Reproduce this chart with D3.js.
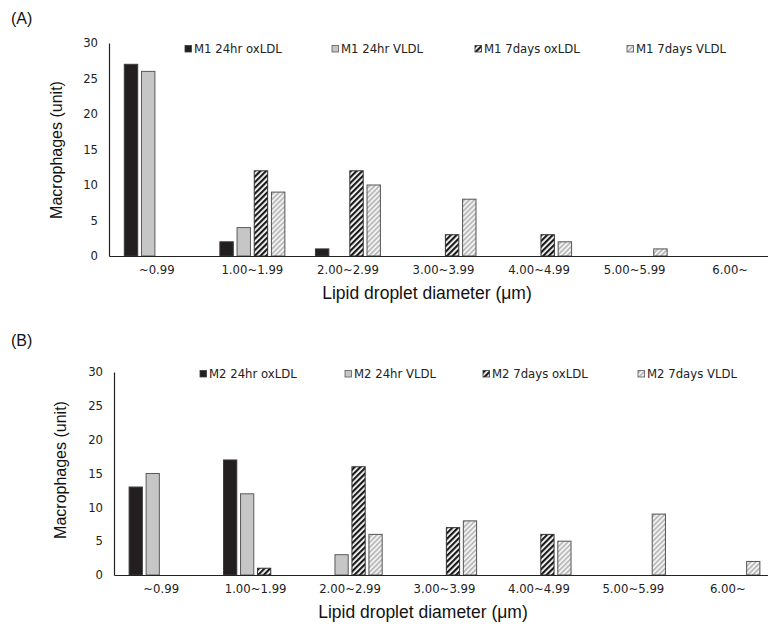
<!DOCTYPE html>
<html><head><meta charset="utf-8">
<script src="https://cdn.jsdelivr.net/npm/d3@7"></script>
<style>body{margin:0;background:#fff}svg{display:block}</style>
</head><body>
<svg id="chart" width="768" height="629"></svg>
<script>
const categories = ["~0.99","1.00~1.99","2.00~2.99","3.00~3.99","4.00~4.99","5.00~5.99","6.00~"];
const seriesA = ["M1 24hr oxLDL","M1 24hr VLDL","M1 7days oxLDL","M1 7days VLDL"];
const seriesB = ["M2 24hr oxLDL","M2 24hr VLDL","M2 7days oxLDL","M2 7days VLDL"];
const m1_24hr_oxLDL = [27, 2, 1, 0, 0, 0, 0];
const m1_24hr_VLDL  = [26, 4, 0, 0, 0, 0, 0];
const m1_7d_oxLDL   = [0, 12, 12, 3, 3, 0, 0];
const m1_7d_VLDL    = [0, 9, 10, 8, 2, 1, 0];
const m2_24hr_oxLDL = [13, 17, 0, 0, 0, 0, 0];
const m2_24hr_VLDL  = [15, 12, 3, 0, 0, 0, 0];
const m2_7d_oxLDL   = [0, 1, 16, 7, 6, 0, 0];
const m2_7d_VLDL    = [0, 0, 6, 8, 5, 9, 2];
const yTicks = [0, 5, 10, 15, 20, 25, 30];

const svg = d3.select("#chart");
const defs = svg.append("defs");
const p1 = defs.append("pattern").attr("id","hatchDark").attr("patternUnits","userSpaceOnUse")
  .attr("width",4).attr("height",4).attr("patternTransform","rotate(45)");
p1.append("rect").attr("width",4).attr("height",4).attr("fill","#ffffff");
p1.append("rect").attr("width",2.2).attr("height",4).attr("fill","#1a1a1a");
const p2 = defs.append("pattern").attr("id","hatchLight").attr("patternUnits","userSpaceOnUse")
  .attr("width",3.5).attr("height",3.5).attr("patternTransform","rotate(45)");
p2.append("rect").attr("width",3.5).attr("height",3.5).attr("fill","#f2f2f2");
p2.append("rect").attr("width",1.6).attr("height",3.5).attr("fill","#b5b5b5");

const styles = [
  {fill:"#231f20", stroke:"#3a3a3a"},
  {fill:"#c6c6c6", stroke:"#5a5a5a"},
  {fill:"url(#hatchDark)", stroke:"#333"},
  {fill:"url(#hatchLight)", stroke:"#555"}
];
const smallFont = "DejaVu Sans, Verdana, sans-serif";
const bigFont = "Liberation Sans, Arial, sans-serif";

function panel(cfg){
  const g = svg.append("g");
  const x0 = d3.scaleBand().domain(categories).range([cfg.left, cfg.right]).padding(0);
  const x1 = d3.scaleBand().domain(d3.range(4)).range([0, x0.bandwidth()])
    .paddingInner(0.22).paddingOuter(0.89);
  const y = d3.scaleLinear().domain([0,30]).range([cfg.bottom, cfg.top]);

  cfg.data.forEach((vals, si) => {
    g.append("g").selectAll("rect").data(vals.map((v,i)=>({v, c:categories[i]})).filter(d=>d.v>0))
      .join("rect")
      .attr("x", d => x0(d.c) + x1(si))
      .attr("y", d => y(d.v))
      .attr("width", x1.bandwidth())
      .attr("height", d => y(0) - y(d.v))
      .attr("fill", styles[si].fill)
      .attr("stroke", styles[si].stroke)
      .attr("stroke-width", 1);
  });

  const ya = g.append("g").attr("transform", `translate(${cfg.left},0)`)
    .call(d3.axisLeft(y).tickValues(yTicks).tickSize(0).tickPadding(11));
  ya.select(".domain").attr("stroke","#222").attr("stroke-width",1.2);
  ya.selectAll("text").attr("font-family",smallFont).attr("font-size",11.7).attr("fill","#222");

  const xa = g.append("g").attr("transform", `translate(0,${cfg.bottom})`)
    .call(d3.axisBottom(x0).tickSize(0).tickPadding(10));
  xa.select(".domain").attr("stroke","#222").attr("stroke-width",1.2);
  xa.selectAll("text").attr("font-family",smallFont).attr("font-size",11.7).attr("fill","#222");

  g.append("text").attr("x", cfg.xtx).attr("y", cfg.bottom + 43)
    .attr("text-anchor","middle").attr("font-family",bigFont)
    .attr("font-size",17.5).attr("fill","#111")
    .text("Lipid droplet diameter (\u03bcm)");
  g.append("text").attr("transform", `translate(${cfg.ytx},${cfg.yty}) rotate(-90)`)
    .attr("text-anchor","middle").attr("font-family",bigFont)
    .attr("font-size",16).attr("fill","#111")
    .text("Macrophages (unit)");
  g.append("text").attr("x", 11).attr("y", cfg.labelY)
    .attr("font-family",bigFont).attr("font-size",16).attr("fill","#111")
    .text(cfg.label);

  const lg = g.append("g");
  cfg.series.forEach((s, i) => {
    const lx = cfg.legendX[i];
    lg.append("rect").attr("x", lx).attr("y", cfg.legendY - 3.5).attr("width",6.5).attr("height",6.5)
      .attr("fill", styles[i].fill).attr("stroke", styles[i].stroke).attr("stroke-width",0.8);
    lg.append("text").attr("x", lx + 9).attr("y", cfg.legendY).attr("dy","0.35em")
      .attr("font-family",smallFont).attr("font-size",11.7).attr("fill","#222")
      .text(s);
  });
}

panel({
  left:109, right:778, top:43, bottom:256,
  data:[m1_24hr_oxLDL, m1_24hr_VLDL, m1_7d_oxLDL, m1_7d_VLDL],
  series: seriesA, legendX:[185, 332, 475, 627], legendY:49,
  xtx:427, ytx:62, yty:150, label:"(A)", labelY:24
});
panel({
  left:114, right:775, top:372, bottom:575,
  data:[m2_24hr_oxLDL, m2_24hr_VLDL, m2_7d_oxLDL, m2_7d_VLDL],
  series: seriesB, legendX:[200, 345, 483, 638], legendY:374,
  xtx:423, ytx:66, yty:470, label:"(B)", labelY:346
});
</script>
</body></html>
